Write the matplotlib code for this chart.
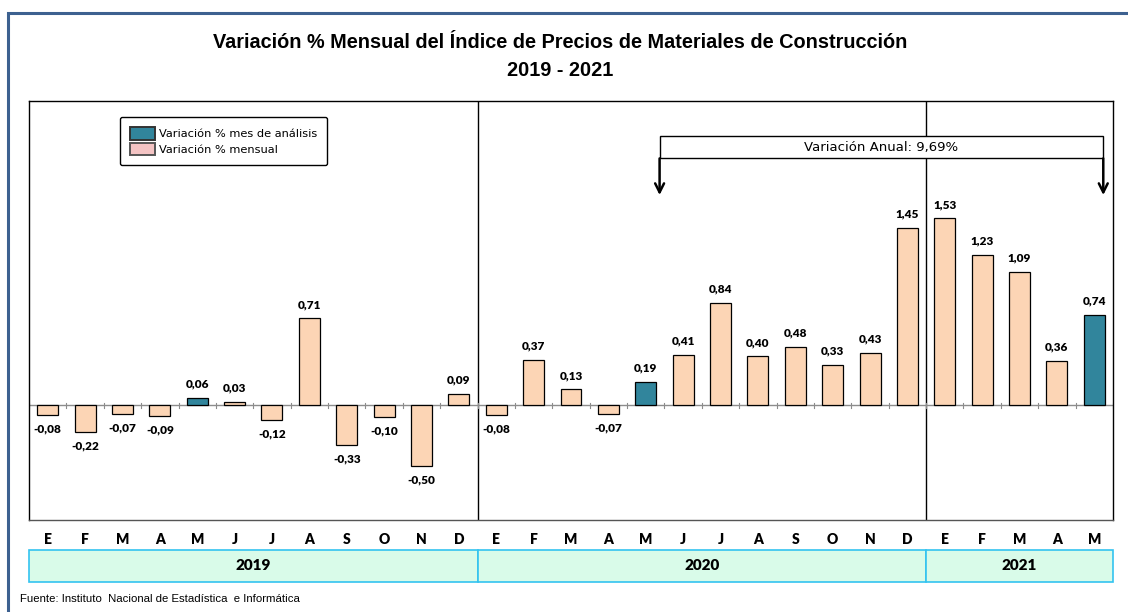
import matplotlib
matplotlib.use("Agg")
import matplotlib.pyplot as plt
from matplotlib.patches import Rectangle, Patch
import matplotlib.transforms as mtransforms

months = ["E", "F", "M", "A", "M", "J", "J", "A", "S", "O", "N", "D",
          "E", "F", "M", "A", "M", "J", "J", "A", "S", "O", "N", "D",
          "E", "F", "M", "A", "M"]
values = [-0.08, -0.22, -0.07, -0.09, 0.06, 0.03, -0.12, 0.71, -0.33, -0.10, -0.50, 0.09,
          -0.08, 0.37, 0.13, -0.07, 0.19, 0.41, 0.84, 0.40, 0.48, 0.33, 0.43, 1.45,
          1.53, 1.23, 1.09, 0.36, 0.74]
highlight = [4, 16, 28]
years = ["2019", "2020", "2021"]
year_counts = [12, 12, 5]
title = "Variación % Mensual del Índice de Precios de Materiales de Construcción\n2019 - 2021"
annual_text = "Variación Anual: 9,69%"
source = "Fuente: Instituto  Nacional de Estadística  e Informática"

C_HI = "#31859c"
C_NORM = "#fcd5b5"
C_LEG = "#f4c4c4"

W, H = 1128, 612
fig = plt.figure(figsize=(W / 100, H / 100), dpi=100)
fig.patch.set_facecolor("white")

ax = fig.add_axes([29 / W, 1 - 520 / H, (1113 - 29) / W, (520 - 101) / H])
n = len(values)
x = list(range(n))
colors = [C_HI if i in highlight else C_NORM for i in x]
ax.bar(x, values, width=0.56, color=colors, edgecolor="black", linewidth=0.9, zorder=3)
ax.set_xlim(-0.5, n - 0.5)
ax.set_ylim(-0.94, 2.49)
ax.set_xticks([])
ax.set_yticks([])
for s in ax.spines.values():
    s.set_linewidth(1.0)
    s.set_color("black")
ax.spines["bottom"].set_color("#555555")

# zero axis and tick marks
ax.axhline(0, color="#8c8c8c", linewidth=1.0, zorder=2)
for b in range(n + 1):
    ax.plot([b - 0.5, b - 0.5], [-0.02, 0.02], color="#8c8c8c", linewidth=0.8, zorder=2)

# year separators
cum = 0
for c in year_counts[:-1]:
    cum += c
    ax.axvline(cum - 0.5, color="black", linewidth=1.0, zorder=1)

# data labels
for i, v in enumerate(values):
    lab = f"{v:.2f}".replace(".", ",")
    if v >= 0:
        ax.annotate(lab, (i, v), xytext=(0, 6), textcoords="offset points",
                    ha="center", va="bottom", fontsize=8.5, fontweight="heavy", family="Lato")
    else:
        ax.annotate(lab, (i, v), xytext=(0, -6), textcoords="offset points",
                    ha="center", va="top", fontsize=8.5, fontweight="heavy", family="Lato")

# annual variation box and arrows
xl, xr = 16.37, 28.24
ax.add_patch(Rectangle((xl, 2.02), xr - xl, 0.18, facecolor="white", edgecolor="black",
                       linewidth=1.0, zorder=4, clip_on=False))
ax.text((xl + xr) / 2, 2.11, annual_text, ha="center", va="center", fontsize=9.5,
        family="DejaVu Sans", zorder=5)
for xa in (xl, xr):
    ax.annotate("", xy=(xa, 1.72), xytext=(xa, 2.02),
                arrowprops=dict(arrowstyle="->", color="black", lw=1.8,
                                mutation_scale=16, shrinkA=0, shrinkB=0),
                annotation_clip=False, zorder=5)

# legend
handles = [Patch(facecolor=C_HI, edgecolor="#333333", linewidth=1.4, label="Variación % mes de análisis"),
           Patch(facecolor=C_LEG, edgecolor="#555555", linewidth=1.4, label="Variación % mensual")]
leg = ax.legend(handles=handles, loc="upper left",
                bbox_to_anchor=(120 / W, 1 - 117 / H), bbox_transform=fig.transFigure,
                fancybox=True, framealpha=1, edgecolor="black", handlelength=2.2,
                handleheight=1.3, handletextpad=0.3, labelspacing=0.25, borderpad=0.9,
                borderaxespad=0, prop={"family": "DejaVu Sans", "size": 8.2})
leg.get_frame().set_linewidth(1.0)

# month labels
trans_mx = mtransforms.blended_transform_factory(ax.transData, fig.transFigure)
for i, m in enumerate(months):
    fig.text(i, 1 - 539 / H, m, transform=trans_mx, ha="center", va="center",
             fontsize=10, fontweight="heavy", family="Lato")

# year bands
start = -0.5
for yname, c in zip(years, year_counts):
    rect = Rectangle((start, 1 - 582 / H), c, 32 / H, transform=trans_mx,
                     facecolor="#d9fbe9", edgecolor="#33c3f0", linewidth=1.2)
    fig.add_artist(rect)
    fig.text(start + c / 2, 1 - 566 / H, yname, transform=trans_mx, ha="center",
             va="center", fontsize=11, fontweight="heavy", family="Lato")
    start += c

# title
fig.text(560 / W, 1 - 57 / H, title, ha="center", va="center", fontsize=14.3,
         fontweight="bold", family="Liberation Sans", linespacing=1.6)

# source
fig.text(20 / W, 1 - 599 / H, source, ha="left", va="center", fontsize=8.2,
         family="Liberation Sans")

# outer border
fig.add_artist(Rectangle((8 / W, -0.05), 1.2, 1 - 13 / H + 0.05, transform=fig.transFigure,
                         facecolor="none", edgecolor="#3d6190", linewidth=2.2))

fig.savefig("out.png", dpi=100)
